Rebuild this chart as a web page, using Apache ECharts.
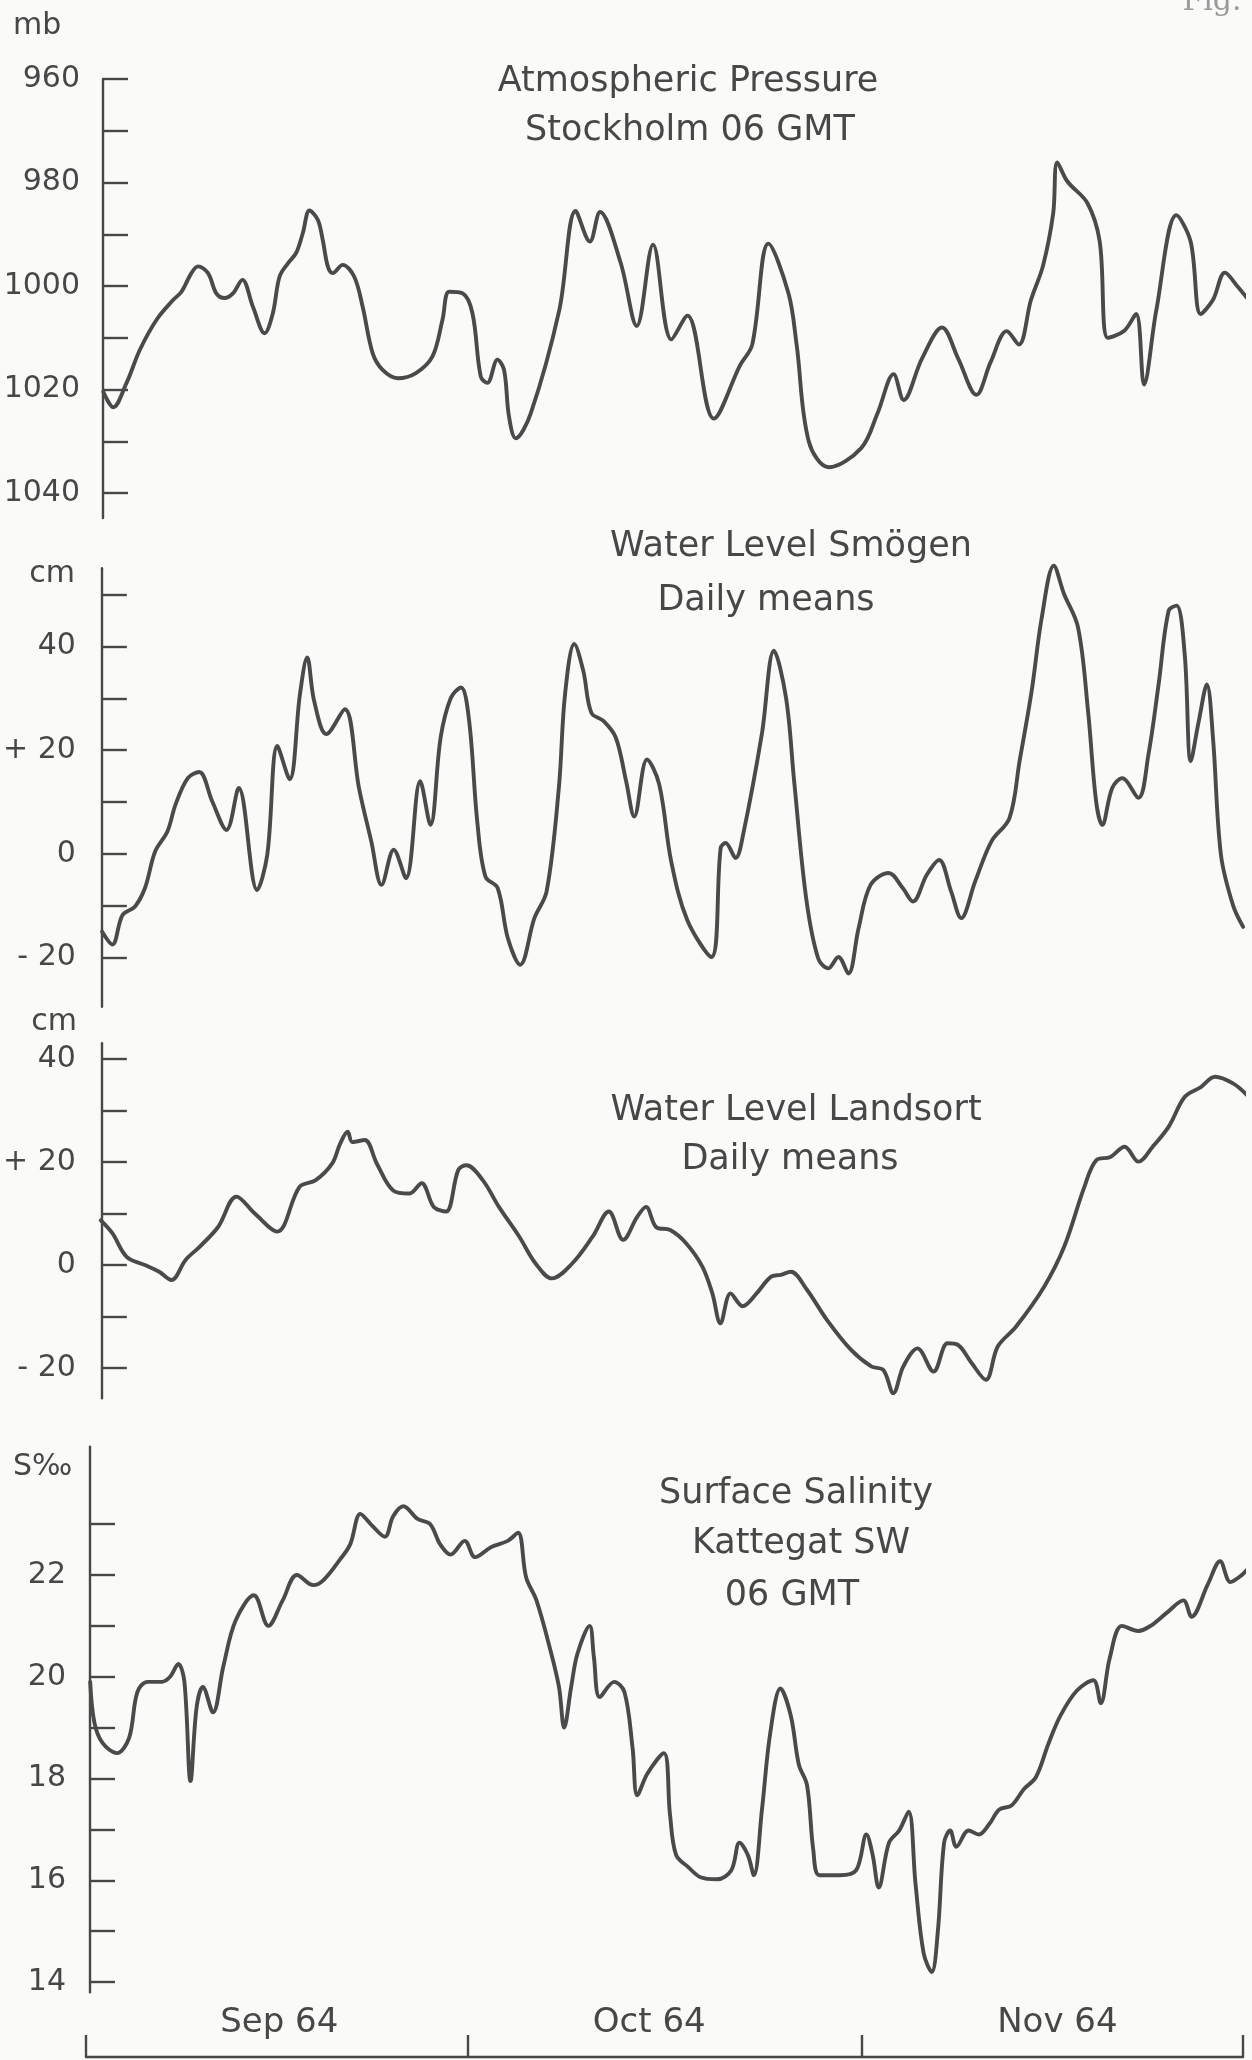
<!DOCTYPE html>
<html>
<head>
<meta charset="utf-8">
<script src="https://cdn.jsdelivr.net/npm/echarts@6/dist/echarts.min.js"></script>
<style>
html,body{margin:0;padding:0;background:#fafaf8;}
#chart{width:1252px;height:2060px;}
</style>
</head>
<body>
<div id="chart"></div>
<script>
// ---------------- DATA ----------------
// x = days since 1 Sep 1964
const monthNames = ['Sep 64', 'Oct 64', 'Nov 64'];
const monthStartDays = [0, 30, 61, 91];
const monthLabelDays = [15.2, 44.3, 76.4];

const pressureTicks = [960, 970, 980, 990, 1000, 1010, 1020, 1030, 1040];
const pressureLabels = [960, 980, 1000, 1020, 1040];
const levelTicksSmogen = [-20, -10, 0, 10, 20, 30, 40, 50];
const levelTicksLandsort = [-20, -10, 0, 10, 20, 30, 40];
const levelLabelValues = [-20, 0, 20, 40];
const levelLabelTexts = ['- 20', '0', '+ 20', '40'];
const salinityTicks = [14, 15, 16, 17, 18, 19, 20, 21, 22, 23];
const salinityLabels = [14, 16, 18, 20, 22];

const pressureDays = [1.36,2.14,3.19,4.24,5.55,6.85,7.51,8.29,8.81,9.6,
  10.25,10.9,11.56,12.3,13.13,14.05,14.7,15.22,15.88,16.53,
  17.05,17.58,18.23,18.62,19.02,19.41,20.19,21.1,21.76,22.55,
  23.33,24.51,25.95,27.25,28.04,28.56,29.61,30.39,31.05,31.57,
  32.36,32.88,33.27,33.8,34.98,37.22,38.51,39.63,40.43,42.04,
  43.32,44.6,46.04,47.3,49.38,51.44,52.4,53.67,55.25,55.89,
  56.85,58.43,60.97,62.25,63.52,64.31,65.75,67.33,68.6,70.03,
  71.15,72.42,73.37,74.32,75.28,76.07,76.39,77.19,78.77,79.73,
  80.37,81.64,82.59,83.22,84.18,85.76,86.88,87.67,88.63,89.58,
  90.54,91.64];
const pressureMb = [1020.4,1023.4,1018.7,1012.3,1006.5,1002.7,1001.1,997.5,996.2,997.5,
  1001.4,1002.3,1001.4,998.8,1004,1009.1,1005.2,998.2,995.6,993.6,
  989.8,985.4,987.2,991.1,996.2,997.5,995.9,998.2,1004,1013,
  1016.2,1017.8,1016.8,1013.6,1006.5,1001.1,1001.4,1005.2,1017.5,1018.7,
  1014.2,1016.2,1025.2,1029.4,1024.6,1004.7,985.5,991.4,985.7,995.4,
  1007.7,992,1010.3,1005.7,1025.6,1015.3,1011.3,991.8,1001.4,1011.3,
  1030,1035,1031.3,1024.6,1017,1022,1014,1008,1014,1021,
  1014.7,1008.7,1011.3,1002.7,996,986,976.1,979.8,984,991.4,
  1010,1008.7,1005.4,1019,1004.7,986.3,991.4,1005.4,1002.7,997.4,
  1000,1003.3];

const smogenDays = [0.96,1.78,2.58,3.55,4.35,5.16,6.12,6.76,7.73,8.63,
  9.66,10.79,11.75,13.2,14.0,14.8,15.77,16.58,17.15,17.7,
  18.67,20.12,21.24,22.21,23.02,23.98,24.95,26.07,26.88,27.68,
  28.49,29.29,29.93,30.57,31.22,32.18,32.99,33.96,35.08,36.04,
  37.01,37.5,38.23,38.94,39.58,40.55,41.51,42.32,42.96,43.97,
  44.93,45.88,47.15,49.05,49.78,50.17,50.96,51.6,53.03,53.98,
  54.94,55.58,56.53,57.48,58.28,59.07,59.86,60.66,61.61,63.04,
  64.15,64.95,66.06,67.02,67.97,68.76,69.87,71.15,72.57,73.37,
  74.32,75.12,76.07,76.87,77.98,78.77,79.41,79.89,80.68,81.47,
  82.74,83.54,84.34,85.13,85.76,86.4,86.88,87.51,88.15,88.63,
  89.26,90.21,91.01];
const smogenCm = [-15,-17.5,-11.8,-10.2,-6.6,0.5,4.3,9.5,14.6,15.8,
  10.1,4.6,12.7,-7,-0.2,20.8,14.4,30.8,37.9,29.5,
  23.1,27.9,12.7,2.4,-6,0.8,-4.7,14,5.6,22.4,
  30.1,32.1,25.7,6.3,-4.4,-6.6,-16.3,-21.4,-12.4,-7.3,
  12.7,30.8,40.5,35.3,27.2,25.6,22.4,14,7.2,18.2,
  13.4,-1.5,-12.8,-19.9,1.1,2.1,-0.8,4.3,23.1,39.2,
  30.1,14,-8.6,-20.2,-22.1,-19.9,-23.1,-14.4,-6,-3.7,
  -6.6,-9.2,-4,-1.2,-7.3,-12.4,-5.3,2.4,6.9,17.9,
  31.4,45.6,55.6,50.2,43.7,27.6,10.1,5.6,12.7,14.6,
  10.8,19.2,32.7,46.9,47.9,38.5,17.9,25.6,32.7,22.4,
  -0.2,-9.9,-14.1];

const landsortDays = [0.71,1.62,2.75,4.19,5.32,6.29,7.41,8.54,9.98,11.43,
  12.88,14.65,16.42,17.7,18.99,19.63,20.22,20.6,21.57,22.53,
  23.82,25.1,26.07,27.03,28,28.97,29.61,30.9,32.18,33.79,
  35.08,36.37,37.97,39.58,40.87,42,43.12,43.81,44.6,45.72,
  46.99,48.26,49.05,49.69,50.49,51.44,52.55,53.67,54.46,55.25,
  56.53,58.12,60.02,61.61,62.57,63.36,64.15,65.27,66.54,67.65,
  68.45,69.56,70.67,71.62,73.05,75.28,76.87,78.46,79.41,80.52,
  81.64,82.74,83.86,85.13,86.4,87.67,88.79,90.21,91.33];
const landsortCm = [8.7,6.2,1.6,0,-1.3,-2.9,1,3.6,7.4,13.3,
  10,6.5,15.2,16.5,19.7,23.6,25.9,23.9,24.3,19.7,
  14.5,13.9,15.9,11.3,10.4,18.5,19.4,16.5,11.3,5.5,
  0.3,-2.6,0.3,5.5,10.4,4.9,9.4,11.3,7.4,6.8,
  4.2,-0.3,-5.5,-11.3,-5.5,-8,-5.5,-2.3,-1.9,-1.3,
  -4.8,-10.7,-16.5,-19.7,-20.4,-24.9,-19.7,-16.2,-20.7,-15.2,
  -15.5,-19.1,-22.3,-15.8,-12,-4.2,3.6,15.2,20.4,21,
  23,20.1,23,26.9,32.7,34.6,36.6,35.3,33];

const salinityDays = [0.33,0.66,1.3,2.43,3.39,4.04,4.84,5.96,6.61,7.26,
  7.74,8.22,8.7,9.19,9.99,10.8,11.76,13.21,14.34,15.47,
  16.59,17.88,18.68,19.97,20.78,21.58,22.39,23.51,24.15,24.96,
  26.09,27.06,27.86,28.67,29.79,30.6,31.88,33.17,33.98,34.62,
  35.43,36.55,37.2,37.61,38.16,38.65,39.61,39.94,40.41,41.54,
  42.35,42.99,43.36,44.16,45.45,45.93,46.41,47.37,48.34,49.63,
  50.76,51.4,52.05,52.53,53.17,53.82,54.62,55.43,56.07,56.71,
  57.2,57.68,59.29,60.58,61.38,61.87,62.35,63.16,63.96,64.7,
  65.24,65.88,66.52,67.0,67.49,67.97,68.45,69.42,70.22,71.03,
  71.83,72.79,73.76,74.72,75.69,76.65,77.94,79.23,79.81,80.52,
  81.48,82.77,83.73,85.02,86.31,86.95,88.24,89.2,90.01,90.81,
  91.45];
const salinityPermil = [19.9,19.1,18.7,18.5,18.8,19.7,19.9,19.9,20.0,20.25,
  19.9,17.95,19.4,19.8,19.3,20.2,21.1,21.6,21.0,21.5,
  22.0,21.8,21.9,22.3,22.6,23.2,23.0,22.75,23.15,23.35,
  23.1,23.0,22.6,22.4,22.67,22.35,22.55,22.67,22.83,21.95,
  21.5,20.5,19.8,19.0,19.8,20.45,21.0,20.4,19.6,19.9,
  19.7,18.6,17.67,18.1,18.5,17.3,16.5,16.26,16.06,16.02,
  16.2,16.74,16.5,16.1,17.4,18.9,19.77,19.24,18.27,17.87,
  16.6,16.1,16.1,16.2,16.9,16.5,15.86,16.74,16.98,17.35,
  15.94,14.57,14.2,15.0,16.74,16.98,16.66,16.98,16.9,17.1,
  17.39,17.47,17.79,18.03,18.68,19.24,19.73,19.93,19.48,20.37,
  21.0,20.9,21.0,21.26,21.5,21.18,21.82,22.27,21.86,21.98,
  22.14];

// ---------------- STYLE / LAYOUT ----------------
const FONT = 'DejaVu Sans';
const INK = '#474747';
const LINE = '#4a4a4a';
const AXIS_W = 2.4;

const pairs = (xs, ys) => xs.map((x, i) => [x, ys[i]]);

const grids = [
  {left: 86, right: 9, top: 79, height: 439},
  {left: 86, right: 9, top: 568.3, height: 438.4},
  {left: 86, right: 9, top: 1043.3, height: 355},
  {left: 86, right: 9, top: 1446.7, height: 545.6}
];

function xAxisFor(i) {
  const base = {type: 'value', gridIndex: i, min: 0, max: 91, splitLine: {show: false}};
  if (i < 3) return Object.assign(base, {show: false});
  return Object.assign(base, {
    position: 'bottom',
    offset: 64.7,
    axisLine: {show: true, lineStyle: {color: INK, width: AXIS_W}},
    axisTick: {show: true, inside: true, length: 22, customValues: monthStartDays,
      lineStyle: {color: INK, width: AXIS_W}},
    axisLabel: {show: true, inside: true, margin: 17, customValues: monthLabelDays,
      formatter: v => monthNames[monthLabelDays.indexOf(v)] || '',
      fontFamily: FONT, fontSize: 34, color: INK}
  });
}

function yAxisFor(i, cfg) {
  return {
    type: 'value', gridIndex: i, min: cfg.min, max: cfg.max, inverse: !!cfg.inverse,
    position: 'left', offset: cfg.offset,
    splitLine: {show: false},
    axisLine: {show: true, onZero: false, lineStyle: {color: INK, width: AXIS_W}},
    axisTick: {show: true, inside: true, length: 25, customValues: cfg.ticks,
      lineStyle: {color: INK, width: AXIS_W}},
    axisLabel: {show: true, margin: cfg.margin, customValues: cfg.labels,
      formatter: cfg.fmt || (v => String(v)),
      fontFamily: FONT, fontSize: 30, color: INK}
  };
}

const levelFmt = v => levelLabelTexts[levelLabelValues.indexOf(v)];

function lineSeries(i, data) {
  return {
    type: 'line', xAxisIndex: i, yAxisIndex: i, data: data,
    showSymbol: false, smooth: 0.35, clip: false, silent: true,
    lineStyle: {color: LINE, width: 3.9, cap: 'round', join: 'round'}
  };
}

function txt(x, y, text, align, size, family, color) {
  return {
    type: 'text', x: x, y: y, silent: true,
    style: {
      text: text, fill: color || INK,
      font: (size || 35) + 'px ' + (family || ('"' + FONT + '"')),
      align: align || 'center', verticalAlign: 'middle',
      textAlign: align || 'center', textVerticalAlign: 'middle'
    }
  };
}

const option = {
  backgroundColor: '#fafaf8',
  animation: false,
  grid: grids,
  xAxis: [0, 1, 2, 3].map(xAxisFor),
  yAxis: [
    yAxisFor(0, {min: 960, max: 1044.8, inverse: true, offset: -17, margin: 23,
      ticks: pressureTicks, labels: pressureLabels}),
    yAxisFor(1, {min: -29.5, max: 55.1, offset: -12, margin: 26,
      ticks: levelTicksSmogen, labels: levelLabelValues, fmt: levelFmt}),
    yAxisFor(2, {min: -25.9, max: 43.1, offset: -10, margin: 26,
      ticks: levelTicksLandsort, labels: levelLabelValues, fmt: levelFmt}),
    yAxisFor(3, {min: 13.8, max: 24.52, offset: -4, margin: 24,
      ticks: salinityTicks, labels: salinityLabels})
  ],
  series: [
    lineSeries(0, pairs(pressureDays, pressureMb)),
    lineSeries(1, pairs(smogenDays, smogenCm)),
    lineSeries(2, pairs(landsortDays, landsortCm)),
    lineSeries(3, pairs(salinityDays, salinityPermil))
  ],
  graphic: [
    txt(13, 26, 'mb', 'left', 30),
    txt(75, 574, 'cm', 'right', 30),
    txt(77, 1022, 'cm', 'right', 30),
    txt(13, 1467, 'S‰', 'left', 30),
    txt(688, 82, 'Atmospheric Pressure'),
    txt(690, 131, 'Stockholm 06 GMT'),
    txt(791, 547, 'Water Level Smögen'),
    txt(766, 601, 'Daily means'),
    txt(796, 1111, 'Water Level Landsort'),
    txt(790, 1160, 'Daily means'),
    txt(796, 1494, 'Surface Salinity'),
    txt(801, 1544, 'Kattegat SW'),
    txt(792, 1596, '06 GMT'),
    txt(1212, 2, 'Fig.', 'center', 30, '"DejaVu Serif", serif', '#9a9a9a')
  ]
};

const chart = echarts.init(document.getElementById('chart'), null, {renderer: 'canvas'});
chart.setOption(option);
</script>
</body>
</html>
